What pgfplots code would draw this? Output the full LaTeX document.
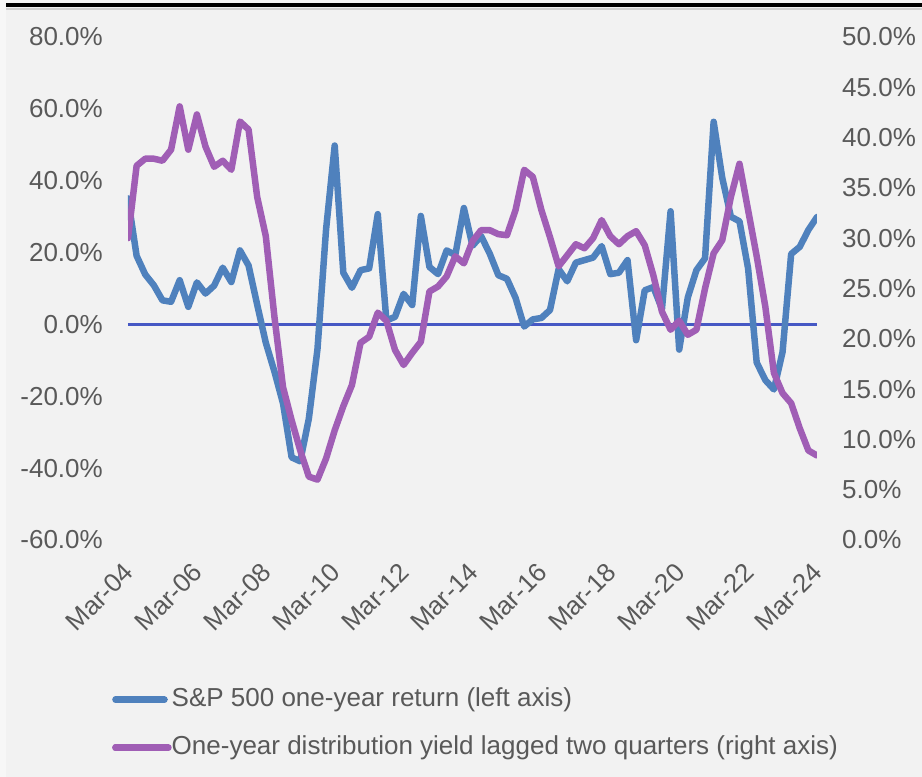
\documentclass[border=0pt]{standalone}
\usepackage{fontspec}
\setmainfont{Liberation Sans}
\usepackage{pgfplots}
\usepackage{pgfplotstable}
\pgfplotsset{compat=1.18}
\definecolor{bgray}{HTML}{F2F2F2}
\definecolor{txtgray}{HTML}{595959}
\definecolor{spblue}{HTML}{4F81BD}
\definecolor{yldpurple}{HTML}{A05EB5}
\definecolor{zeroblue}{HTML}{4658C4}

% quarter index (0 = Mar-04), S&P 500 one-year return, lagged distribution yield
\pgfplotstableread{
q sp yld
0 35.1 30.0
1 19.1 37.2
2 13.9 37.9
3 10.9 37.9
4 6.7 37.7
5 6.3 38.8
6 12.3 43.1
7 4.9 38.8
8 11.7 42.3
9 8.6 39.1
10 10.8 37.1
11 15.8 37.7
12 11.8 36.8
13 20.6 41.6
14 16.4 40.8
15 5.5 34.1
16 -5.1 30.2
17 -13.1 22.2
18 -22.0 15.2
19 -37.0 11.9
20 -38.1 8.9
21 -26.2 6.3
22 -6.9 6.0
23 26.5 8.1
24 49.8 10.9
25 14.4 13.3
26 10.2 15.4
27 15.1 19.6
28 15.6 20.2
29 30.7 22.6
30 1.1 21.8
31 2.1 18.9
32 8.5 17.4
33 5.4 18.6
34 30.2 19.7
35 16.0 24.7
36 14.0 25.2
37 20.6 26.2
38 19.3 28.2
39 32.4 27.5
40 21.9 29.7
41 24.6 30.8
42 19.7 30.8
43 13.7 30.4
44 12.7 30.3
45 7.4 32.8
46 -0.6 36.8
47 1.4 36.1
48 1.8 32.8
49 4.0 30.1
50 15.4 27.2
51 12.0 28.3
52 17.2 29.4
53 17.9 29.0
54 18.6 30.0
55 21.8 31.8
56 14.0 30.2
57 14.4 29.4
58 17.9 30.2
59 -4.4 30.7
60 9.5 29.3
61 10.4 26.3
62 4.3 22.7
63 31.5 20.9
64 -7.0 21.8
65 7.5 20.4
66 15.1 20.9
67 18.4 25.0
68 56.4 28.5
69 40.8 29.8
70 30.0 34.1
71 28.7 37.4
72 15.6 32.8
73 -10.6 28.2
74 -15.5 23.2
75 -18.1 16.6
76 -7.7 14.6
77 19.6 13.6
78 21.6 11.1
79 26.3 8.9
80 29.9 8.4
}\data

\pgfplotsset{
  base/.style={
    scale only axis, width=689pt, height=503pt,
    at={(128pt,237pt)}, anchor=south west,
    xmin=0, xmax=80,
    axis line style={draw=none},
    major tick length=0pt,
    tick label style={font=\fontsize{26}{31}\selectfont, text=txtgray, inner sep=0pt},
  },
  datline/.style={line width=6.5pt, line join=round, line cap=round},
}

\begin{document}
\begin{tikzpicture}[x=1pt,y=1pt]
\path[use as bounding box] (0,0) rectangle (922,777);
\fill[white!97!black] (0,0) rectangle (922,777);
\fill[bgray] (6,0) rectangle (922,774);
\draw[black!18, line width=2pt] (6,767.5) -- (922,767.5);
\draw[black, line width=4pt] (6,771.5) -- (922,771.5);

\begin{axis}[base,
  ymin=-60, ymax=80,
  ytick={-60,-40,-20,0,20,40,60,80},
  yticklabels={-60.0\%,-40.0\%,-20.0\%,0.0\%,20.0\%,40.0\%,60.0\%,80.0\%},
  yticklabel style={anchor=east, xshift=-25pt},
  xtick={0,8,...,80},
  xticklabels={Mar-04,Mar-06,Mar-08,Mar-10,Mar-12,Mar-14,Mar-16,Mar-18,Mar-20,Mar-22,Mar-24},
  xticklabel style={yshift=-28pt, xshift=1pt, rotate=45, anchor=east},
]
\draw[zeroblue, line width=2.5pt] (axis cs:0,0) -- (axis cs:80,0);
\addplot[spblue, datline] table[x=q, y=sp] {\data};
\end{axis}

\begin{axis}[base,
  ymin=0, ymax=50,
  ytick={0,5,...,50},
  yticklabels={0.0\%,5.0\%,10.0\%,15.0\%,20.0\%,25.0\%,30.0\%,35.0\%,40.0\%,45.0\%,50.0\%},
  yticklabel pos=right,
  yticklabel style={anchor=west, xshift=25pt},
  xtick=\empty,
  legend image code/.code={
    \path (0pt,0pt) -- (53pt,0pt);
    \draw[#1, line width=6.5pt, line cap=round] (0pt,0pt) -- (49pt,0pt);},
  legend cell align=left,
  legend style={draw=none, fill=none, at={(axis description cs:-0.0232,-0.2922)},
    anchor=north west, inner sep=0pt,
    font=\fontsize{26}{31}\selectfont, text=txtgray, row sep=23pt,
    nodes={inner sep=0pt, text height=19pt, text depth=6pt}},
]
\addlegendimage{spblue}
\addlegendentry{S\&P 500 one-year return (left axis)}
\addplot[yldpurple, datline] table[x=q, y=yld] {\data};
\addlegendentry{One-year distribution yield lagged two quarters (right axis)}
\end{axis}
\end{tikzpicture}
\end{document}
